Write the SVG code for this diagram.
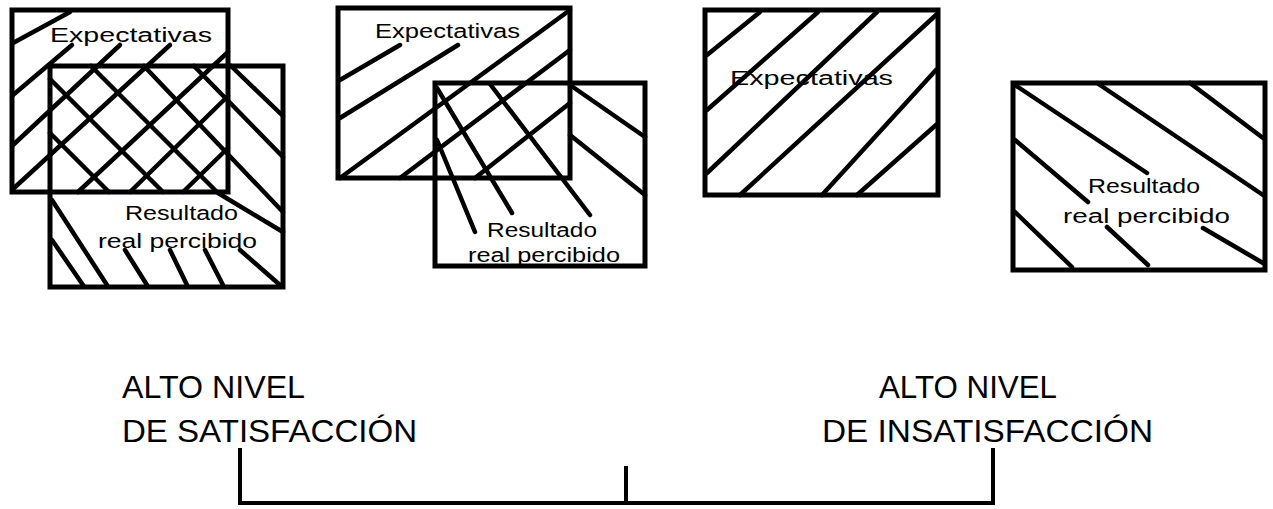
<svg xmlns="http://www.w3.org/2000/svg" width="1273" height="509" viewBox="0 0 1273 509">
<style>
.box{fill:none;stroke:#000;stroke-width:5;stroke-linejoin:miter}
.h{fill:none;stroke:#000;stroke-width:4.5;stroke-linecap:round;stroke-linejoin:round}
.lbl{font-family:"Liberation Sans",Arial,sans-serif;font-size:20px;fill:#000}
.big{font-family:"Liberation Sans",Arial,sans-serif;font-size:31px;fill:#000}
.scale{fill:none;stroke:#000;stroke-width:4}
</style>
<rect width="1273" height="509" fill="#fff"/>

<!-- Panel 1 -->
<g id="p1-expectativas">
  <path class="h" d="M13,43L70,12 M13,95L72,45 M13,145L120,45 M14,188L170,45 M78,192L228,52 M130,192L228,96 M183,192L228,148"/>
  <rect class="box" x="12" y="10" width="216" height="182"/>
  <text class="lbl" x="50" y="42" textLength="162" lengthAdjust="spacingAndGlyphs">Expectativas</text>
</g>
<g id="p1-resultado">
  <path class="h" d="M231,66L283,116 M194,66L283,157 M144,66L283,212 M91,66L218,193L283,232 M50,79L163,192 M50,133L109,192 M52,200L107,285 M52,240L83,285 M125,250L147,285 M170,250L187,285 M205,250L223,285 M240,250L280,285"/>
  <rect class="box" x="50" y="66" width="233" height="221"/>
  <text class="lbl" x="125" y="220" textLength="113" lengthAdjust="spacingAndGlyphs">Resultado</text>
  <text class="lbl" x="98" y="248" textLength="159" lengthAdjust="spacingAndGlyphs">real percibido</text>
</g>

<!-- Panel 2 -->
<g id="p2-expectativas">
  <path class="h" d="M340,80L400,45 M340,118L458,45 M340,178L570,10 M400,178L570,50 M475,178L570,103"/>
  <rect class="box" x="338" y="8" width="232" height="170"/>
  <text class="lbl" x="375" y="38" textLength="145" lengthAdjust="spacingAndGlyphs">Expectativas</text>
</g>
<g id="p2-resultado">
  <path class="h" d="M437,88L512,213 M490,84L590,215 M570,85L645,137 M570,135L645,195 M437,140L475,232"/>
  <rect class="box" x="435" y="83" width="210" height="183"/>
  <text class="lbl" x="487" y="237" textLength="110" lengthAdjust="spacingAndGlyphs">Resultado</text>
  <text class="lbl" x="468" y="262" textLength="152" lengthAdjust="spacingAndGlyphs">real percibido</text>
</g>

<!-- Panel 3 -->
<g id="p3-expectativas">
  <path class="h" d="M707,55L760,12 M707,110L818,12 M707,173L877,12 M740,195L936,15 M822,195L936,70 M857,195L936,125"/>
  <rect class="box" x="705" y="10" width="233" height="185"/>
  <text class="lbl" x="730" y="85" textLength="163" lengthAdjust="spacingAndGlyphs">Expectativas</text>
</g>

<!-- Panel 4 -->
<g id="p4-resultado">
  <path class="h" d="M1015,85L1147,173 M1097,83L1263,195 M1190,83L1263,138 M1015,140L1088,202 M1107,227L1148,265 M1015,212L1072,267 M1203,228L1263,263"/>
  <rect class="box" x="1013" y="83" width="252" height="187"/>
  <text class="lbl" x="1088" y="193" textLength="112" lengthAdjust="spacingAndGlyphs">Resultado</text>
  <text class="lbl" x="1063" y="223" textLength="167" lengthAdjust="spacingAndGlyphs">real percibido</text>
</g>

<!-- Scale labels -->
<g id="label-satisfaccion">
  <text class="big" x="122" y="398" textLength="183" lengthAdjust="spacingAndGlyphs">ALTO NIVEL</text>
  <text class="big" x="122" y="442" textLength="295" lengthAdjust="spacingAndGlyphs">DE SATISFACCIÓN</text>
</g>
<g id="label-insatisfaccion">
  <text class="big" x="879" y="398" textLength="178" lengthAdjust="spacingAndGlyphs">ALTO NIVEL</text>
  <text class="big" x="822" y="442" textLength="331" lengthAdjust="spacingAndGlyphs">DE INSATISFACCIÓN</text>
</g>

<g id="connectors">
  <path class="scale" d="M240,448V503H993V448"/>
  <path class="scale" d="M626,466V503"/>
</g>
</svg>
